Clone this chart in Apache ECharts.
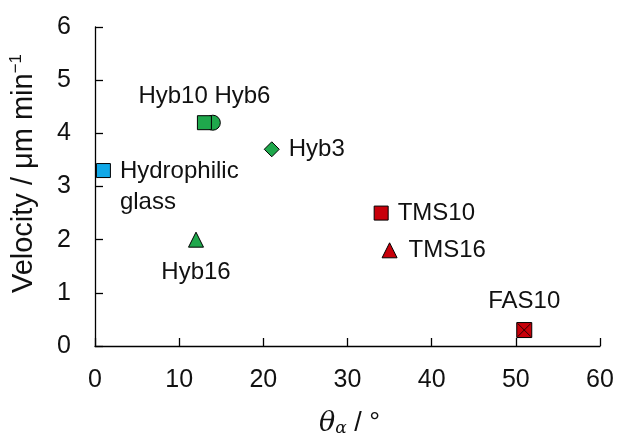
<!DOCTYPE html>
<html><head><meta charset="utf-8">
<script src="https://cdn.jsdelivr.net/npm/echarts@6/dist/echarts.min.js"></script>
<style>html,body{margin:0;padding:0;background:#fff}#c{width:617px;height:436px}</style>
</head><body><div id="c"></div>
<script>
var xTicks = [0, 10, 20, 30, 40, 50, 60];
var yTicks = [0, 1, 2, 3, 4, 5, 6];
var hydrophilic = [[1, 3.3]];
var hyb10 = [[13, 4.2]];
var hyb6 = [[14, 4.2]];
var hyb3 = [[21, 3.7]];
var hyb16 = [[12, 2.0]];
var tms10 = [[34, 2.5]];
var tms16 = [[35, 1.8]];
var fas10 = [[51, 0.3]];

var BLUE = '#10a8e8', GREEN = '#1fa84c', RED = '#c8000a';
var F = 'Liberation Sans, Arial, sans-serif';
var lbl = function (txt, pos, off) {
  return {show: true, formatter: txt, position: pos, offset: off || [0, 0], color: '#111',
    fontSize: 24, fontFamily: F, lineHeight: 31};
};
function sc(data, symbol, size, color, label, z) {
  return {type: 'scatter', data: data, symbol: symbol, symbolSize: size, z: z || 2,
    itemStyle: {color: color, borderColor: '#000', borderWidth: 1, opacity: 1},
    label: label || {show: false}, emphasis: {disabled: true}};
}
var chart = echarts.init(document.getElementById('c'));
chart.setOption({
  animation: false,
  grid: {left: 95, right: 17, top: 27, bottom: 90, containLabel: false, outerBoundsMode: 'none'},
  xAxis: {type: 'value', min: xTicks[0], max: xTicks[xTicks.length - 1], interval: 10,
    axisLine: {show: true, lineStyle: {color: '#000', width: 1.3}},
    axisTick: {show: true, inside: true, length: 8, lineStyle: {color: '#000', width: 1.3}},
    splitLine: {show: false},
    axisLabel: {color: '#111', fontSize: 25, fontFamily: F, margin: 22},
    name: '{t|θ}{s|α}{r| / °}', nameLocation: 'middle', nameGap: 64,
    nameTextStyle: {padding: [0, 0, 0, 4], rich: {
      t: {fontSize: 27, fontStyle: 'italic', fontFamily: 'DejaVu Serif, serif', color: '#111'},
      s: {fontSize: 17, fontStyle: 'italic', fontFamily: 'DejaVu Serif, serif', color: '#111', verticalAlign: 'bottom', padding: [10, 0, 0, 0]},
      r: {fontSize: 27, fontFamily: F, color: '#111'}}}
  },
  yAxis: {type: 'value', min: yTicks[0], max: yTicks[yTicks.length - 1], interval: 1,
    axisLine: {show: true, lineStyle: {color: '#000', width: 1.3}},
    axisTick: {show: true, inside: true, length: 8, lineStyle: {color: '#000', width: 1.3}},
    splitLine: {show: false},
    axisLabel: {color: '#111', fontSize: 25, fontFamily: F, margin: 24},
    name: '{a|Velocity / μm min}{b|−1}', nameLocation: 'middle', nameGap: 56, nameRotate: 90,
    nameTextStyle: {padding: [0, 0, 0, 26], rich: {
      a: {fontSize: 29, fontFamily: F, color: '#111'},
      b: {fontSize: 17, fontFamily: F, color: '#111', verticalAlign: 'top', padding: [0, 0, 14, 0]}}}
  },
  series: [
    sc(hydrophilic, 'rect', 14, BLUE, lbl('Hydrophilic\nglass', 'right', [4, 16])),
    sc(hyb6, 'circle', 15, GREEN, null, 2),
    sc(hyb10, 'rect', 14, GREEN, lbl('Hyb10 Hyb6', 'top', [0, 2]), 3),
    sc(hyb3, 'diamond', 15, GREEN, lbl('Hyb3', 'right', [4, 0])),
    sc(hyb16, 'triangle', 15, GREEN, lbl('Hyb16', 'bottom', [0, 4])),
    sc(tms10, 'rect', 14, RED, lbl('TMS10', 'right', [4, 0])),
    sc(tms16, 'triangle', 15, RED, lbl('TMS16', 'right', [6, 0])),
    sc(fas10, 'rect', 15, RED, lbl('FAS10', 'top', [0, 0]), 3),
    {type: 'scatter', data: fas10, symbol: 'path://M0,0L10,10M10,0L0,10', symbolSize: 13, z: 4,
      itemStyle: {color: 'none', borderColor: '#000', borderWidth: 1}, emphasis: {disabled: true}}
  ]
});
</script></body></html>
